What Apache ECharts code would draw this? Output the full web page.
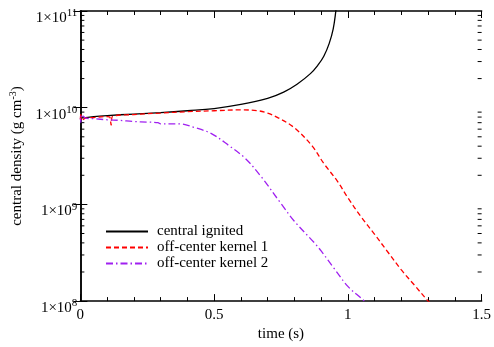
<!DOCTYPE html>
<html><head><meta charset="utf-8">
<script src="https://cdn.jsdelivr.net/npm/echarts@6/dist/echarts.min.js"></script>
<style>html,body{margin:0;padding:0;background:#fff}#c{width:494px;height:347px}</style>
</head><body><div id="c"></div>
<script>
// ---- data ----
const seriesNames = ['central ignited', 'off-center kernel 1', 'off-center kernel 2'];
const tCentral = [0, 0.05, 0.1, 0.2, 0.3, 0.4, 0.5, 0.6, 0.7, 0.76, 0.81, 0.86, 0.89, 0.91, 0.93, 0.945, 0.955, 0.962];
const rhoCentral = [7.8e9, 8.1e9, 8.3e9, 8.6e9, 8.9e9, 9.3e9, 9.8e9, 1.08e10, 1.25e10, 1.45e10, 1.75e10, 2.25e10, 2.8e10, 3.4e10, 4.6e10, 6.5e10, 1.0e11, 1.5e11];
const tKernel1 = [0, 0.002, 0.004, 0.02, 0.05, 0.1, 0.11, 0.115, 0.12, 0.2, 0.3, 0.4, 0.5, 0.6, 0.664, 0.7, 0.738, 0.8, 0.867, 0.91, 0.96, 1.0, 1.05, 1.1, 1.15, 1.2, 1.25, 1.3, 1.31];
const rhoKernel1 = [7.6e9, 8.8e9, 7.3e9, 7.8e9, 7.9e9, 8.1e9, 8.0e9, 6.6e9, 8.1e9, 8.5e9, 8.8e9, 9.1e9, 9.3e9, 9.5e9, 9.3e9, 8.8e9, 7.9e9, 6.2e9, 4.0e9, 2.65e9, 1.75e9, 1.17e9, 7.4e8, 4.9e8, 3.2e8, 2.1e8, 1.45e8, 1.0e8, 0.95e8];
const tKernel2 = [0, 0.002, 0.004, 0.02, 0.05, 0.1, 0.145, 0.2, 0.25, 0.29, 0.3, 0.37, 0.43, 0.49, 0.553, 0.616, 0.675, 0.75, 0.8, 0.875, 0.9, 0.95, 1.0, 1.05, 1.062];
const rhoKernel2 = [7.8e9, 7.0e9, 8.5e9, 7.8e9, 7.7e9, 7.5e9, 7.4e9, 7.2e9, 7.1e9, 7.0e9, 6.8e9, 6.8e9, 6.2e9, 5.4e9, 4.1e9, 3.0e9, 1.95e9, 1.02e9, 6.7e8, 4.0e8, 3.3e8, 2.15e8, 1.42e8, 1.07e8, 1.0e8];
const xTicks = [0, 0.5, 1, 1.5];
const yMinorTicks = [2e8,3e8,4e8,5e8,6e8,7e8,8e8,9e8,2e9,3e9,4e9,5e9,6e9,7e9,8e9,9e9,2e10,3e10,4e10,5e10,6e10,7e10,8e10,9e10];

const FONT = 'Liberation Serif';
const FS = 15;
const zip = (a, b) => a.map((v, i) => [v, b[i]]);

const chart = echarts.init(document.getElementById('c'), null, {renderer: 'canvas'});
const axisLine = {show: true, lineStyle: {color: '#000', width: 1.5}};
const sharedX = {type: 'value', min: xTicks[0], max: xTicks[xTicks.length - 1], interval: 0.5,
  splitLine: {show: false}, axisLine: axisLine,
  axisTick: {inside: true, length: 7, lineStyle: {color: '#000', width: 1}},
  minorTick: {show: true, splitNumber: 5, length: 4, lineStyle: {color: '#000', width: 1}}};
const sharedY = {type: 'log', logBase: 10, min: 1e8, max: 1e11,
  splitLine: {show: false}, axisLine: axisLine,
  axisTick: {inside: true, length: 7, lineStyle: {color: '#000', width: 1}}};

chart.setOption({
  animation: false,
  backgroundColor: '#fff',
  grid: {left: 80, right: 7, top: 11, bottom: 39, containLabel: false},
  xAxis: [
    Object.assign({}, sharedX, {position: 'bottom', name: 'time (s)', nameLocation: 'middle', nameGap: 17,
      nameTextStyle: {fontFamily: FONT, fontSize: FS, color: '#000'},
      axisLabel: {fontFamily: FONT, fontSize: FS, color: '#000', margin: 6, showMinLabel: true, showMaxLabel: true}}),
    Object.assign({}, sharedX, {position: 'top', axisLabel: {show: false}})
  ],
  yAxis: [
    Object.assign({}, sharedY, {position: 'left',
      name: '{a|central density (g cm}{s|-3}{a|)}', nameLocation: 'middle', nameGap: 50, nameRotate: 90,
      nameTextStyle: {fontFamily: FONT, fontSize: FS, color: '#000',
        rich: {a: {fontFamily: FONT, fontSize: FS, color: '#000'}, s: {fontFamily: FONT, fontSize: 10, color: '#000', padding: [0, 0, 8, 0]}}},
      axisLabel: {margin: 3, fontFamily: FONT, color: '#000', padding: [14, 0, 0, 0],
        formatter: function (v) { return '{b|1×10}{s|' + Math.round(Math.log10(v)) + '}'; },
        rich: {b: {fontFamily: FONT, fontSize: FS, color: '#000'}, s: {fontFamily: FONT, fontSize: 11, color: '#000', padding: [0, 0, 9, 0]}}}}),
    Object.assign({}, sharedY, {position: 'right', axisLabel: {show: false}})
  ],
  legend: {orient: 'vertical', left: 100, top: 219, itemWidth: 42, itemHeight: 10, itemGap: 1,
    data: seriesNames, itemStyle: {opacity: 0},
    textStyle: {fontFamily: FONT, fontSize: FS, color: '#000', padding: [0, 0, 0, 4]}},
  series: [
    {name: seriesNames[0], type: 'line', data: zip(tCentral, rhoCentral), symbol: 'none', smooth: 0.4, clip: true,
      lineStyle: {color: '#000', width: 1.3, type: 'solid'}, itemStyle: {color: '#000'}},
    {name: seriesNames[1], type: 'line', data: zip(tKernel1, rhoKernel1), symbol: 'none', smooth: 0.35, clip: true,
      lineStyle: {color: '#ff0000', width: 1.3, type: [5, 3]}, itemStyle: {color: '#ff0000'}},
    {name: seriesNames[2], type: 'line', data: zip(tKernel2, rhoKernel2), symbol: 'none', smooth: 0.35, clip: true,
      lineStyle: {color: '#a020f0', width: 1.3, type: [7, 3, 1.5, 3]}, itemStyle: {color: '#a020f0'}},
    {type: 'custom', silent: true, clip: false, data: yMinorTicks.map(v => [xTicks[0], v]),
      renderItem: function (params, api) {
        const v = api.value(1);
        const l = api.coord([xTicks[0], v]);
        const r = api.coord([xTicks[xTicks.length - 1], v]);
        return {type: 'group', children: [
          {type: 'line', shape: {x1: l[0], y1: l[1], x2: l[0] + 4, y2: l[1]}, style: {stroke: '#000', lineWidth: 1}},
          {type: 'line', shape: {x1: r[0] - 4, y1: r[1], x2: r[0], y2: r[1]}, style: {stroke: '#000', lineWidth: 1}}
        ]};
      }}
  ]
});
</script></body></html>
